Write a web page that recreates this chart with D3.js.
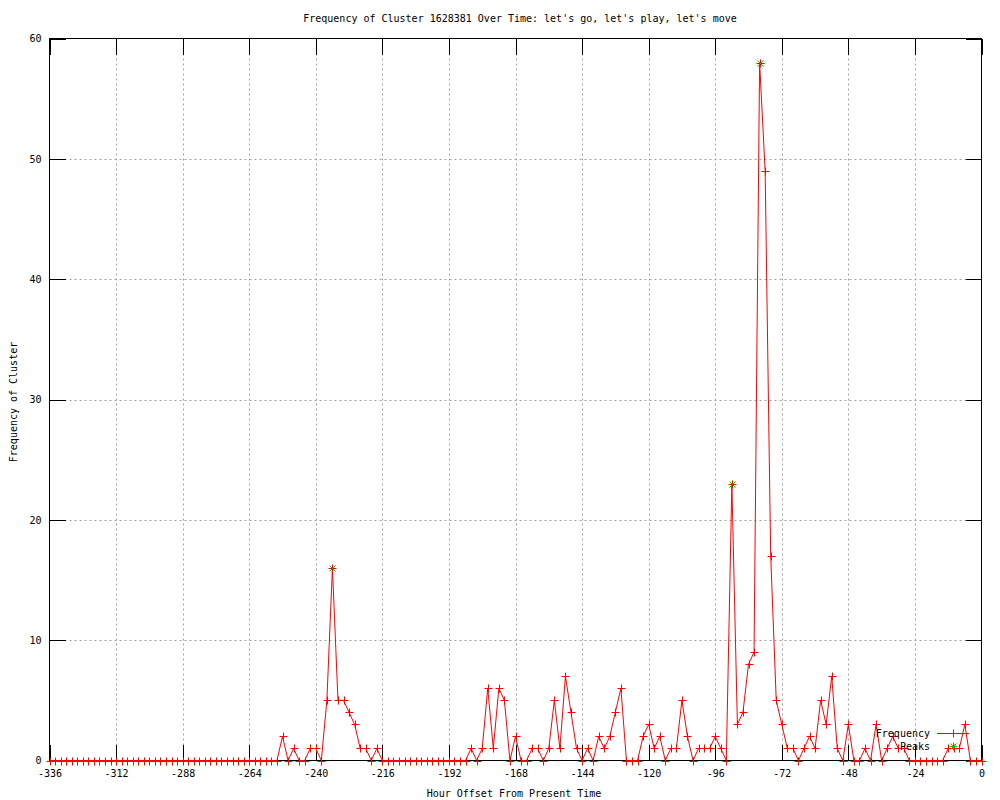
<!DOCTYPE html>
<html><head><meta charset="utf-8">
<script src="https://cdn.jsdelivr.net/npm/d3@7"></script>
<style>
body{margin:0;background:#fff}
svg{display:block}
text{font-family:"DejaVu Sans Mono","Liberation Mono",monospace;font-size:10px;fill:#000}
</style>
</head><body>
<svg id="chart" width="1000" height="800"></svg>
<script>
// ---- data ----
const titleText = "Frequency of Cluster 1628381 Over Time: let's go, let's play, let's move";
const xLabel = "Hour Offset From Present Time";
const yLabel = "Frequency of Cluster";
const xTicks = [-336,-312,-288,-264,-240,-216,-192,-168,-144,-120,-96,-72,-48,-24,0];
const yTicks = [0,10,20,30,40,50,60];

const hours = [
 -336,-334,-332,-330,-328,-326,-324,-322,-320,-318,-316,-314,-312,-310,-308,-306,-304,-302,-300,-298,
 -296,-294,-292,-290,-288,-286,-284,-282,-280,-278,-276,-274,-272,-270,-268,-266,-264,-262,-260,-258,
 -256,-254,-252,-250,-248,-246,-244,-242,-240,-238,-236,-234,-232,-230,-228,-226,-224,-222,-220,-218,
 -216,-214,-212,-210,-208,-206,-204,-202,-200,-198,-196,-194,-192,-190,-188,-186,-184,-182,-180,-178,
 -176,-174,-172,-170,-168,-166,-164,-162,-160,-158,-156,-154,-152,-150,-148,-146,-144,-142,-140,-138,
 -136,-134,-132,-130,-128,-126,-124,-122,-120,-118,-116,-114,-112,-110,-108,-106,-104,-102,-100,-98,
 -96,-94,-92,-90,-88,-86,-84,-82,-80,-78,-76,-74,-72,-70,-68,-66,-64,-62,-60,-58,
 -56,-54,-52,-50,-48,-46,-44,-42,-40,-38,-36,-34,-32,-30,-28,-26,-24,-22,-20,-18,
 -16,-14,-12,-10,-8,-6,-4,-2,0
];
const frequency = [
 0,0,0,0,0,0,0,0,0,0,0,0,0,0,0,0,0,0,0,0,
 0,0,0,0,0,0,0,0,0,0,0,0,0,0,0,0,0,0,0,0,
 0,0,2,0,1,0,0,1,1,0,5,16,5,5,4,3,1,1,0,1,
 0,0,0,0,0,0,0,0,0,0,0,0,0,0,0,0,1,0,1,6,
 1,6,5,0,2,0,0,1,1,0,1,5,1,7,4,1,0,1,0,2,
 1,2,4,6,0,0,0,2,3,1,2,0,1,1,5,2,0,1,1,1,
 2,1,0,23,3,4,8,9,58,49,17,5,3,1,1,0,1,2,1,5,
 3,7,1,0,3,0,0,1,0,3,0,1,2,1,1,0,0,0,0,0,
 0,0,1,1,1,3,0,0,0
];
const peakHours = [-234,-90,-80];
const peakValues = [16,23,58];
const legendNames = ["Frequency","Peaks"];
const colors = {line:"#ff0000", peak:"#00c000", grid:"#a0a0a0"};

// ---- chart ----
const svg = d3.select("#chart");
const L = 49.5, R = 981.5, T = 38.5, B = 760.5;
const x = d3.scaleLinear().domain([-336,0]).range([L,R]);
const y = d3.scaleLinear().domain([0,60]).range([B,T]);
const fmt = d => String(d);
const ticLen = 16;

// grid
const g = svg.append("g");
g.selectAll(".gx").data(xTicks.filter(d=>d!==-336 && d!==0)).enter().append("line")
  .attr("x1",d=>Math.round(x(d))+0.5).attr("x2",d=>Math.round(x(d))+0.5)
  .attr("y1",B).attr("y2",T)
  .attr("stroke",colors.grid).attr("stroke-dasharray","2,3").attr("stroke-width",1);
g.selectAll(".gy").data(yTicks.filter(d=>d!==0 && d!==60)).enter().append("line")
  .attr("y1",d=>Math.round(y(d))+0.5).attr("y2",d=>Math.round(y(d))+0.5)
  .attr("x1",L).attr("x2",R)
  .attr("stroke",colors.grid).attr("stroke-dasharray","2,3").attr("stroke-width",1);

// axes via d3
const xAxisB = d3.axisBottom(x).tickValues(xTicks).tickFormat(fmt).tickSizeInner(-ticLen).tickSizeOuter(0).tickPadding(9);
const xAxisT = d3.axisTop(x).tickValues(xTicks).tickFormat("").tickSizeInner(-ticLen).tickSizeOuter(0);
const yAxisL = d3.axisLeft(y).tickValues(yTicks).tickFormat(fmt).tickSizeInner(-ticLen).tickSizeOuter(0).tickPadding(8);
const yAxisR = d3.axisRight(y).tickValues(yTicks).tickFormat("").tickSizeInner(-ticLen).tickSizeOuter(0);

function styleAxis(sel){
  sel.select(".domain").remove();
  sel.selectAll("line").attr("stroke","#000").attr("shape-rendering","crispEdges");
  sel.selectAll("text").attr("font-family",null).attr("font-size",null).attr("fill","#000");
}
svg.append("g").attr("transform",`translate(0,${B})`).call(xAxisB).call(styleAxis);
svg.append("g").attr("transform",`translate(0,${T})`).call(xAxisT).call(styleAxis);
svg.append("g").attr("transform",`translate(${L},0)`).call(yAxisL).call(styleAxis);
svg.append("g").attr("transform",`translate(${R},0)`).call(yAxisR).call(styleAxis);

// border
svg.append("rect").attr("x",L).attr("y",T).attr("width",R-L).attr("height",B-T)
  .attr("fill","none").attr("stroke","#000").attr("stroke-width",1).attr("shape-rendering","crispEdges");

// data
const data = hours.map((h,i)=>({h, v:frequency[i]}));
const line = d3.line().x(d=>x(d.h)).y(d=>y(d.v));
svg.append("path").datum(data).attr("d",line)
  .attr("fill","none").attr("stroke",colors.line).attr("stroke-width",1);
const plus = "M-4,0H4M0,-4V4";
svg.append("g").selectAll("path").data(data).enter().append("path")
  .attr("transform",d=>`translate(${Math.round(x(d.h))+0.5},${Math.round(y(d.v))+0.5})`)
  .attr("d",plus).attr("stroke",colors.line).attr("stroke-width",1).attr("fill","none");

// peaks
const star = "M-4,0H4M0,-4V4M-3,-3L3,3M-3,3L3,-3";
const peaks = peakHours.map((h,i)=>({h, v:peakValues[i]}));
svg.append("g").selectAll("path").data(peaks).enter().append("path")
  .attr("transform",d=>`translate(${Math.round(x(d.h))+0.5},${Math.round(y(d.v))+0.5})`)
  .attr("d","M-3,-3L3,3M-3,3L3,-3").attr("stroke",colors.peak).attr("stroke-width",1).attr("fill","none");

// legend
const lg = svg.append("g");
lg.append("text").attr("x",930).attr("y",737).attr("text-anchor","end").text(legendNames[0]);
lg.append("line").attr("x1",937).attr("x2",969).attr("y1",733.5).attr("y2",733.5).attr("stroke",colors.line);
lg.append("path").attr("transform","translate(953.5,733.5)").attr("d",plus).attr("stroke",colors.line);
lg.append("text").attr("x",930).attr("y",750).attr("text-anchor","end").text(legendNames[1]);
lg.append("path").attr("transform","translate(953.5,746.5)").attr("d",star).attr("stroke",colors.peak);

// titles
svg.append("text").attr("x",520).attr("y",22).attr("text-anchor","middle").text(titleText);
svg.append("text").attr("x",514).attr("y",797).attr("text-anchor","middle").text(xLabel);
svg.append("text").attr("transform","translate(16.5,402) rotate(-90)").attr("text-anchor","middle").text(yLabel);
</script>
</body></html>
